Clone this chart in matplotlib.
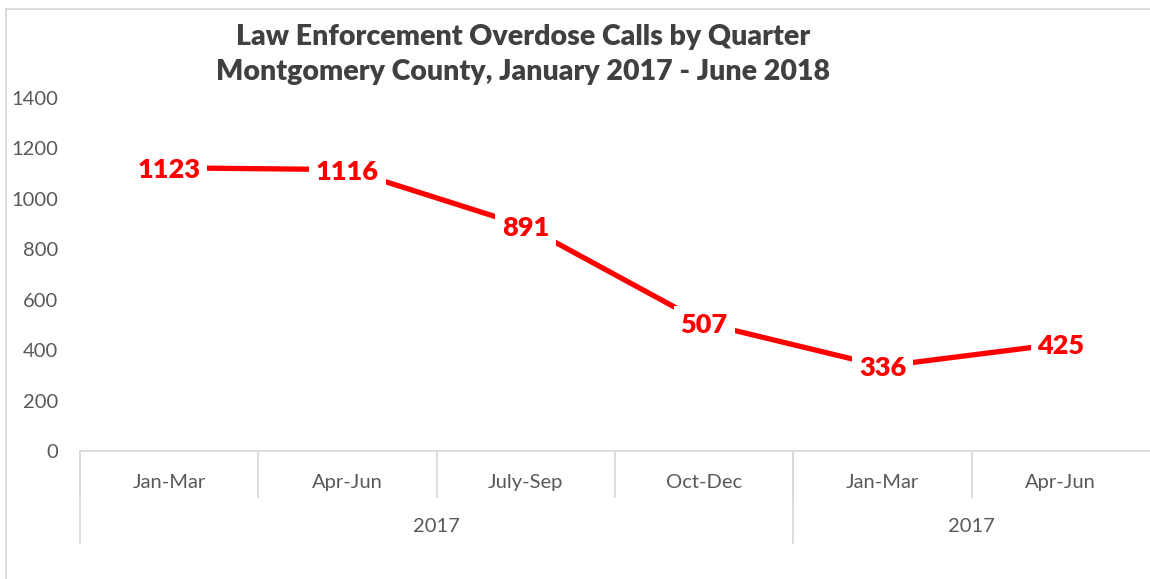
import matplotlib.pyplot as plt
from matplotlib.lines import Line2D
import matplotlib.transforms as mtransforms

plt.rcParams["font.family"] = ["Lato", "DejaVu Sans"]

# data
quarters = ["Jan-Mar", "Apr-Jun", "July-Sep", "Oct-Dec", "Jan-Mar", "Apr-Jun"]
calls = [1123, 1116, 891, 507, 336, 425]
years = ["2017", "2017"]
year_spans = [(0, 3), (4, 5)]  # first/last quarter index of each year group

grey = "#595959"
light = "#d9d9d9"

fig = plt.figure(figsize=(11.5, 5.79), dpi=100)
ax = fig.add_axes([0.0696, 0.2211, 0.9304, 0.6097])

x = list(range(len(calls)))
ax.plot(x, calls, color="#ff0000", linewidth=3.8, solid_capstyle="butt", zorder=2)
for xi, v in zip(x, calls):
    ax.text(xi, v, str(v), ha="center", va="center_baseline", color="#ff0000",
            fontsize=19.5, fontweight="heavy", zorder=3,
            bbox=dict(boxstyle="square,pad=0.25", facecolor="white", edgecolor="none"))

ax.set_xlim(-0.5, len(calls) - 0.5)
ax.set_ylim(0, 1400)
ax.set_yticks(range(0, 1401, 200))
ax.tick_params(axis="y", length=0, labelsize=14.5, labelcolor=grey, pad=16)
ax.set_xticks([])
for s in ["top", "right", "left"]:
    ax.spines[s].set_visible(False)
ax.spines["bottom"].set_color(light)
ax.spines["bottom"].set_linewidth(1.3)

trans = mtransforms.blended_transform_factory(ax.transData, ax.transAxes)
# quarter row
for i, q in enumerate(quarters):
    ax.text(i, -0.088, q, transform=trans, ha="center", va="center",
            fontsize=14.5, color=grey)
for i in range(len(quarters)):
    ax.plot([i - 0.5, i - 0.5], [0, -0.130], transform=trans, color=light,
            linewidth=1.3, clip_on=False)
# year row
for (a, b), yr in zip(year_spans, years):
    ax.text((a + b) / 2, -0.215, yr, transform=trans, ha="center", va="center",
            fontsize=14.5, color=grey)
    ax.plot([a - 0.5, a - 0.5], [0, -0.2606], transform=trans, color=light,
            linewidth=1.3, clip_on=False)

fig.text(0.455, 0.906, "Law Enforcement Overdose Calls by Quarter\nMontgomery County, January 2017 - June 2018",
         ha="center", va="center", fontsize=20.5, fontweight="heavy", color="#404040",
         linespacing=1.45)

# chart area border (left and top edges visible)
fig.add_artist(Line2D([0.0055, 0.0055], [0, 0.984], color=light, linewidth=1.3))
fig.add_artist(Line2D([0.0055, 1.0], [0.984, 0.984], color=light, linewidth=1.3))

fig.savefig("out.png", dpi=100)
